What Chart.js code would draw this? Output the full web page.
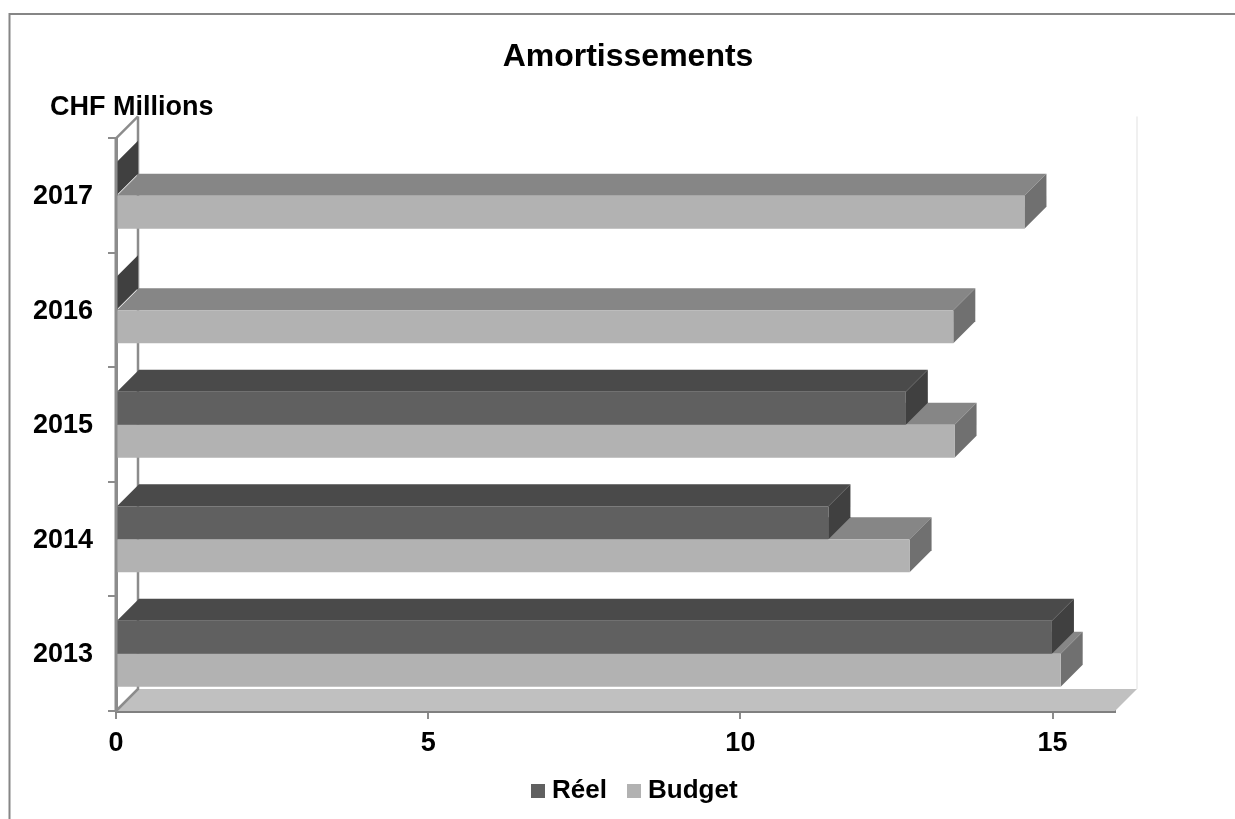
<!DOCTYPE html>
<html>
<head>
<meta charset="utf-8">
<style>
  html, body { margin: 0; padding: 0; background: #fff; overflow: hidden; }
  canvas { display: block; }
</style>
<script src="https://cdn.jsdelivr.net/npm/chart.js@4/dist/chart.umd.min.js"></script>
</head>
<body>
<canvas id="chart" width="1235" height="819"></canvas>
<script>
const years = ["2017", "2016", "2015", "2014", "2013"];
const reel = [0, 0, 12.65, 11.41, 14.99];
const budget = [14.55, 13.41, 13.43, 12.71, 15.13];
const seriesNames = ["Réel", "Budget"];
const xTicks = [0, 5, 10, 15];

const FONT = "Liberation Sans";
const DEPTH = 22;
const faces = [
  { front: "#606060", top: "#4a4a4a", side: "#404040" },
  { front: "#b2b2b2", top: "#868686", side: "#707070" },
];

function poly(ctx, pts, fill) {
  ctx.fillStyle = fill;
  ctx.beginPath();
  pts.forEach((p, i) => (i ? ctx.lineTo(p[0], p[1]) : ctx.moveTo(p[0], p[1])));
  ctx.closePath();
  ctx.fill();
}

function line(ctx, pts, color, width) {
  ctx.strokeStyle = color;
  ctx.lineWidth = width;
  ctx.beginPath();
  pts.forEach((p, i) => (i ? ctx.lineTo(p[0], p[1]) : ctx.moveTo(p[0], p[1])));
  ctx.stroke();
}

// frame, floor and back walls of the fake 3d box
const boxPlugin = {
  id: "box3d",
  beforeDatasetsDraw(chart) {
    const ctx = chart.ctx;
    const { left, right, top, bottom } = chart.chartArea;
    ctx.save();
    line(ctx, [[9.5, 819], [9.5, 14], [1235, 14]], "#868686", 2);
    line(ctx, [[right + DEPTH, top - DEPTH], [right + DEPTH, bottom - DEPTH]], "#f0f0f0", 2);
    poly(ctx, [[left, bottom], [left + DEPTH, bottom - DEPTH], [right + DEPTH, bottom - DEPTH], [right, bottom]], "#c0c0c0");
    line(ctx, [[left + DEPTH, top - DEPTH], [left + DEPTH, bottom - DEPTH], [left, bottom]], "#8c8c8c", 2.5);
    line(ctx, [[left, top], [left + DEPTH, top - DEPTH]], "#8c8c8c", 2.5);

    // top and side of each bar, budget first so the real bar sits over it
    [1, 0].forEach((ds) => {
      chart.getDatasetMeta(ds).data.forEach((bar) => {
        const h = bar.height / 2;
        const y0 = bar.y - h, y1 = bar.y + h;
        poly(ctx, [[bar.base, y0], [bar.base + DEPTH, y0 - DEPTH], [bar.x + DEPTH, y0 - DEPTH], [bar.x, y0]], faces[ds].top);
        poly(ctx, [[bar.x, y0], [bar.x + DEPTH, y0 - DEPTH], [bar.x + DEPTH, y1 - DEPTH], [bar.x, y1]], faces[ds].side);
      });
    });
    ctx.restore();
  },
  afterDraw(chart) {
    const ctx = chart.ctx;
    const { left, top, bottom } = chart.chartArea;
    ctx.save();
    // front axis line sits over the bars
    line(ctx, [[left, top], [left, bottom + 1]], "#8c8c8c", 3);

    ctx.fillStyle = "#000";
    ctx.textBaseline = "middle";
    ctx.font = "bold 27px '" + FONT + "'";
    ctx.fillText("CHF Millions", 50, 108);

    // legend
    ctx.font = "bold 26px '" + FONT + "'";
    const items = [[531, 552], [627, 648]];
    seriesNames.forEach((name, i) => {
      ctx.fillStyle = faces[i].front;
      ctx.fillRect(items[i][0], 784, 14, 14);
      ctx.fillStyle = "#000";
      ctx.fillText(name, items[i][1], 791);
    });
    ctx.restore();
  },
  afterLayout(chart) {
    // title is centred on the whole box, not on the plot
    chart.titleBlock.left = 21;
    chart.titleBlock.right = 1235;
  },
};

new Chart(document.getElementById("chart"), {
  type: "bar",
  data: {
    labels: years,
    datasets: [
      { label: seriesNames[0], data: reel, backgroundColor: faces[0].front },
      { label: seriesNames[1], data: budget, backgroundColor: faces[1].front },
    ],
  },
  options: {
    indexAxis: "y",
    responsive: false,
    animation: false,
    devicePixelRatio: 1,
    layout: { padding: { left: 0, right: 120, top: 0, bottom: 48 } },
    datasets: { bar: { categoryPercentage: 0.576, barPercentage: 1 } },
    plugins: {
      legend: { display: false },
      tooltip: { enabled: false },
      title: {
        display: true,
        text: "Amortissements",
        color: "#000",
        font: { family: FONT, size: 32, weight: "bold" },
        padding: { top: 38, bottom: 62 },
      },
    },
    scales: {
      x: {
        min: 0,
        max: 16,
        afterBuildTicks: (axis) => { axis.ticks = xTicks.map((v) => ({ value: v })); },
        afterFit: (axis) => { axis.height = 60; },
        grid: { drawOnChartArea: false, color: "#8c8c8c", tickLength: 8, lineWidth: 2 },
        border: { color: "#808080", width: 3 },
        ticks: { color: "#000", padding: 8, maxRotation: 0, font: { family: FONT, size: 27, weight: "bold" } },
      },
      y: {
        afterFit: (axis) => { axis.width = 116; },
        grid: { drawOnChartArea: false, color: "#8c8c8c", tickLength: 8, lineWidth: 2, offset: true },
        border: { color: "#8c8c8c", width: 3 },
        ticks: { color: "#000", padding: 15, labelOffset: 1, font: { family: FONT, size: 27, weight: "bold" } },
      },
    },
  },
  plugins: [boxPlugin],
});
</script>
</body>
</html>
